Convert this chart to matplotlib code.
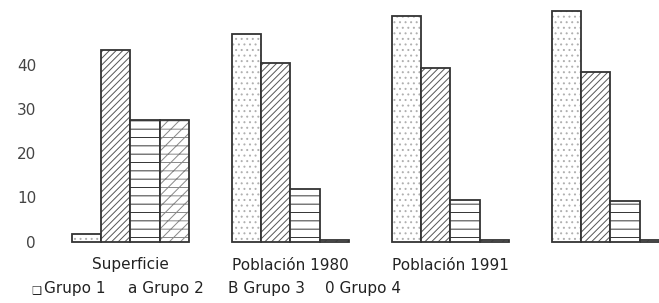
import numpy as np
import matplotlib
matplotlib.use("Agg")
import matplotlib.pyplot as plt

plt.rcParams["font.family"] = ["DejaVu Sans"]
plt.rcParams["hatch.linewidth"] = 0.7

# -----------------------------
# Data
# -----------------------------
categories = ["Superficie", "Población 1980", "Población 1991", ""]
grupo1 = [1.6, 47.0, 51.1, 52.3]
grupo2 = [43.4, 40.5, 39.4, 38.4]
grupo3 = [27.6, 11.8, 9.4, 9.1]
grupo4 = [27.6, 0.3, 0.3, 0.3]
yticks = [0, 10, 20, 30, 40]
legend_marks = ["\u2751", "a", "B", "0"]
legend_labels = ["Grupo 1", "Grupo 2", "Grupo 3", "Grupo 4"]

series = [grupo1, grupo2, grupo3, grupo4]
hatches = ["...", "/////", "--", "--///"]
hatch_colors = ["#b0b0b0", "#555555", "#333333", "#888888"]

# -----------------------------
# Figure
# -----------------------------
fig = plt.figure(figsize=(6.59, 3.03), dpi=100)
ax = fig.add_axes([50 / 659, 58 / 303, 609 / 659, 245 / 303])

centers = np.arange(len(categories)) * 5.46
width = 1.0
offsets = np.array([-1.5, -0.5, 0.5, 1.5]) * width

for vals, off, h, hc in zip(series, offsets, hatches, hatch_colors):
    # hatch layer
    ax.bar(centers + off, vals, width, color="white", edgecolor=hc,
           hatch=h, linewidth=0)
    # outline layer
    ax.bar(centers + off, vals, width, color="none", edgecolor="#333333",
           linewidth=1.3)

ax.set_xlim(-2.74, 18.04)
ax.set_ylim(-0.79, 54.76)

ax.set_yticks(yticks)
ax.set_yticklabels([str(t) for t in yticks], fontsize=11, color="#444444")
ax.set_xticks(centers)
ax.set_xticklabels(categories, fontsize=11, color="#222222")
ax.tick_params(axis="both", length=0)
ax.tick_params(axis="y", pad=10)
ax.tick_params(axis="x", pad=9)

for s in ax.spines.values():
    s.set_visible(False)

# legend as plain text row
legend_x = [31, 128, 228, 325]
for lx, mk, lab in zip(legend_x, legend_marks, legend_labels):
    if mk == "\u2751":
        fig.text(lx / 659, 1 - 290 / 303, mk, fontsize=8, color="#222222",
                 ha="left", va="center")
        fig.text((lx + 13) / 659, 1 - 289 / 303, lab, fontsize=11,
                 color="#222222", ha="left", va="center")
    else:
        fig.text(lx / 659, 1 - 289 / 303, mk + " " + lab, fontsize=11,
                 color="#222222", ha="left", va="center")

fig.savefig("out.png", dpi=100)
